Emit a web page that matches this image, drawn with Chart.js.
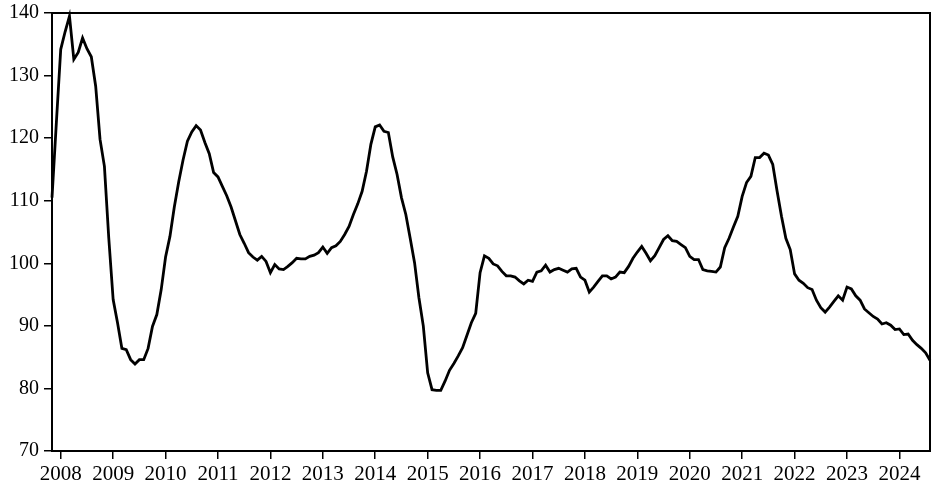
<!DOCTYPE html>
<html>
<head>
<meta charset="utf-8">
<script src="https://cdn.jsdelivr.net/npm/chart.js@4/dist/chart.umd.min.js"></script>
<style>
  html, body { margin: 0; padding: 0; background: #fff; }
  #wrap { width: 935px; height: 490px; }
</style>
</head>
<body>
<div id="wrap"><canvas id="graph"></canvas></div>
<script>
// monthly index, Nov 2007 .. Aug 2024
var y2007 = [110.5, 122.5]
var y2008 = [134.2, 137, 139.5, 132.6, 133.7, 136, 134.3, 133, 128.3, 119.8, 115.5, 104]
var y2009 = [94.2, 90.5, 86.4, 86.2, 84.6, 83.9, 84.6, 84.6, 86.4, 89.9, 91.8, 95.8]
var y2010 = [101, 104.3, 109, 113, 116.5, 119.5, 121, 122, 121.3, 119.3, 117.5, 114.5]
var y2011 = [113.8, 112.3, 110.8, 109, 106.8, 104.6, 103.2, 101.7, 101, 100.5, 101.1, 100.3]
var y2012 = [98.5, 99.8, 99.1, 99, 99.5, 100.1, 100.8, 100.7, 100.7, 101.1, 101.3, 101.7]
var y2013 = [102.6, 101.6, 102.5, 102.8, 103.5, 104.6, 105.9, 107.8, 109.5, 111.5, 114.7, 119]
var y2014 = [121.8, 122.1, 121.1, 120.9, 117, 114.2, 110.5, 107.8, 104, 100.1, 94.5, 90]
var y2015 = [82.5, 79.8, 79.7, 79.7, 81.2, 82.9, 84, 85.2, 86.5, 88.5, 90.5, 92]
var y2016 = [98.5, 101.2, 100.8, 99.9, 99.6, 98.7, 98, 98, 97.8, 97.2, 96.7, 97.3]
var y2017 = [97.1, 98.6, 98.8, 99.7, 98.6, 99, 99.2, 98.9, 98.6, 99.1, 99.2, 97.8]
var y2018 = [97.3, 95.4, 96.2, 97.1, 98, 98, 97.5, 97.8, 98.6, 98.5, 99.5, 100.8]
var y2019 = [101.8, 102.7, 101.6, 100.4, 101.2, 102.5, 103.8, 104.4, 103.6, 103.5, 103, 102.5]
var y2020 = [101.1, 100.6, 100.6, 99, 98.8, 98.7, 98.6, 99.4, 102.5, 104, 105.8, 107.5]
var y2021 = [110.7, 112.9, 113.9, 116.9, 116.9, 117.6, 117.3, 115.8, 111.5, 107.5, 104, 102.2]
var y2022 = [98.3, 97.3, 96.8, 96.1, 95.8, 94.1, 92.9, 92.2, 93, 93.9, 94.8, 94.1]
var y2023 = [96.2, 95.9, 94.8, 94.1, 92.7, 92.1, 91.5, 91.1, 90.3, 90.5, 90.1, 89.4]
var y2024 = [89.5, 88.6, 88.7, 87.7, 87, 86.4, 85.7, 84.5]

var years = ["2008","2009","2010","2011","2012","2013","2014","2015","2016","2017","2018","2019","2020","2021","2022","2023","2024"]
var firstJan = 2   // position of Jan 2008 in the series

var values = [].concat(y2007, y2008, y2009, y2010, y2011, y2012, y2013, y2014, y2015,
  y2016, y2017, y2018, y2019, y2020, y2021, y2022, y2023, y2024)
var points = values.map((v, i) => ({x: i, y: v}))

var serif = "'Liberation Serif', 'Times New Roman', serif"

// black box round the plot
var frame = {
  id: 'frame',
  afterDatasetsDraw(chart) {
    var a = chart.chartArea, c = chart.ctx
    c.save()
    c.strokeStyle = '#000'
    c.lineWidth = 2
    c.strokeRect(a.left, a.top, a.right - a.left, a.bottom - a.top)
    c.restore()
  }
}

new Chart(document.getElementById('graph'), {
  type: 'line',
  data: {
    datasets: [{
      data: points,
      borderColor: '#000',
      borderWidth: 2.8,
      pointRadius: 0,
      tension: 0,
      fill: false,
      clip: 4
    }]
  },
  options: {
    responsive: true,
    maintainAspectRatio: false,
    animation: false,
    layout: { padding: { top: 13, right: 5, left: 0, bottom: 0 } },
    plugins: { legend: { display: false }, tooltip: { enabled: false } },
    scales: {
      x: {
        type: 'linear',
        min: 0,
        max: values.length - 1,
        afterBuildTicks: (s) => { s.ticks = years.map((y, k) => ({value: firstJan + 12 * k})) },
        afterFit: (s) => { s.height = 39; s.paddingLeft = 0; s.paddingRight = 0 },
        ticks: {
          autoSkip: false,
          maxRotation: 0,
          padding: 3,
          color: '#000',
          font: { family: serif, size: 21 },
          callback: (v) => years[(v - firstJan) / 12]
        },
        grid: { drawOnChartArea: false, drawTicks: true, tickLength: 8, color: '#000', lineWidth: 1.5 },
        border: { display: false }
      },
      y: {
        min: 70,
        max: 140,
        afterFit: (s) => { s.width = 52; s.paddingTop = 0; s.paddingBottom = 0 },
        ticks: {
          stepSize: 10,
          padding: 5,
          color: '#000',
          font: { family: serif, size: 20 }
        },
        grid: { drawOnChartArea: false, drawTicks: true, tickLength: 8, color: '#000', lineWidth: 1.5 },
        border: { display: false }
      }
    }
  },
  plugins: [frame]
})
</script>
</body>
</html>
